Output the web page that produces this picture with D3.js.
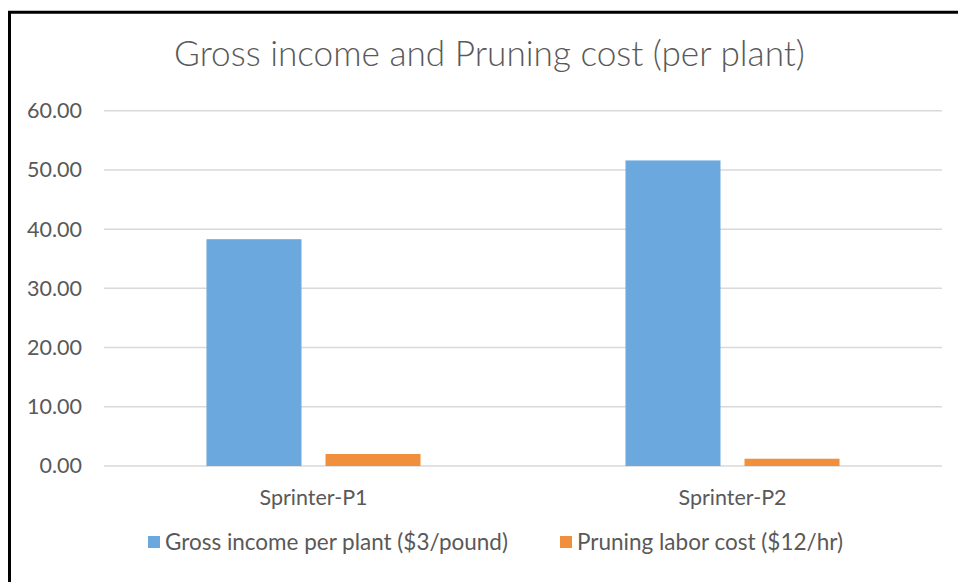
<!DOCTYPE html>
<html>
<head>
<meta charset="utf-8">
<script src="https://cdn.jsdelivr.net/npm/d3@7"></script>
<style>
  html, body { margin: 0; padding: 0; background: #fff; }
  svg { display: block; }
  text { font-family: Lato, "Open Sans", sans-serif; fill: #595959; }
</style>
</head>
<body>
<svg id="chart" width="958" height="582"></svg>
<script>
// ---- data ----
const categories = ["Sprinter-P1", "Sprinter-P2"];
const seriesNames = ["Gross income per plant ($3/pound)", "Pruning labor cost ($12/hr)"];
const grossIncome = [38.3, 51.6];
const pruningCost = [2.03, 1.23];
const yTicks = [0, 10, 20, 30, 40, 50, 60];
const chartTitle = "Gross income and Pruning cost (per plant)";

const colors = ["#6AA8DD", "#F0903C"];
const values = [grossIncome, pruningCost];
const FONT = 'Lato, "Open Sans", sans-serif';

const svg = d3.select("#chart");

function fit(sel, target) {
  const node = sel.node();
  const fs = parseFloat(sel.attr("font-size"));
  const w = node.getComputedTextLength();
  sel.attr("font-size", (fs * target / w).toFixed(2));
}

// plot area
const plot = { left: 104, right: 942, top: 110.7, bottom: 466 };

const y = d3.scaleLinear().domain([0, 60]).range([plot.bottom, plot.top]);
const x0 = d3.scaleBand().domain(categories).range([plot.left, plot.right]).paddingInner(0).paddingOuter(0);
const x1 = d3.scaleBand().domain(seriesNames).range([0, x0.bandwidth()]).paddingInner(0.2017).paddingOuter(0.861);

// gridlines
svg.append("g").selectAll("line").data(yTicks).join("line")
  .attr("x1", plot.left).attr("x2", plot.right)
  .attr("y1", d => y(d)).attr("y2", d => y(d))
  .attr("stroke", "#d9d9d9").attr("stroke-width", 1.5);

// y axis labels
const yAxis = d3.axisLeft(y).tickValues(yTicks).tickFormat(d3.format(".2f")).tickSize(0).tickPadding(22);
const gy = svg.append("g").attr("transform", `translate(${plot.left},0)`).call(yAxis);
gy.select(".domain").remove();
gy.selectAll("text").attr("font-size", 18).attr("fill", "#595959").style("font-family", FONT);
const ref60 = gy.selectAll("text").filter(d => d === 60);
fit(ref60, 55);
gy.selectAll("text").attr("font-size", ref60.attr("font-size"));

// bars
const groups = svg.append("g").selectAll("g").data(categories).join("g")
  .attr("transform", d => `translate(${x0(d)},0)`);
groups.selectAll("rect")
  .data((c, i) => seriesNames.map((s, j) => ({ s, j, v: values[j][i] })))
  .join("rect")
  .attr("x", d => x1(d.s))
  .attr("width", x1.bandwidth())
  .attr("y", d => y(d.v))
  .attr("height", d => y(0) - y(d.v))
  .attr("fill", d => colors[d.j]);

// x axis labels
const xAxis = d3.axisBottom(x0).tickSize(0).tickPadding(24);
const gx = svg.append("g").attr("transform", `translate(0,${plot.bottom})`).call(xAxis);
gx.select(".domain").remove();
gx.selectAll("text").attr("font-size", 17).attr("fill", "#595959").style("font-family", FONT);
gx.selectAll("text").each(function() { fit(d3.select(this), 108); });

// title
const t = svg.append("text").attr("x", 489.5).attr("y", 66)
  .attr("text-anchor", "middle").attr("font-size", 28).attr("font-weight", 300)
  .attr("fill", "#595959")
  .text(chartTitle);
fit(t, 631);

// legend
const legendY = 542;
const legendItems = [
  { name: seriesNames[0], color: colors[0], sx: 148, tx: 165, w: 343 },
  { name: seriesNames[1], color: colors[1], sx: 560, tx: 577, w: 266 }
];
const lg = svg.append("g");
legendItems.forEach(it => {
  lg.append("rect").attr("x", it.sx).attr("y", legendY - 6).attr("width", 12).attr("height", 12).attr("fill", it.color);
  const tx = lg.append("text").attr("x", it.tx).attr("y", legendY).attr("dy", "0.35em")
    .attr("font-size", 18).attr("fill", "#595959").text(it.name);
  fit(tx, it.w);
});

// border (black frame running off right/bottom)
svg.append("path").attr("d", "M9.5,600 V12.3 H970")
  .attr("fill", "none").attr("stroke", "#000").attr("stroke-width", 3);
</script>
</body>
</html>
